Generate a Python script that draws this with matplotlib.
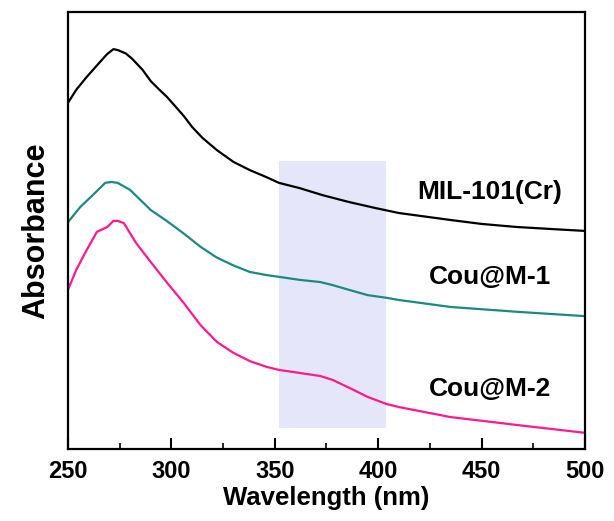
import matplotlib
matplotlib.use('Agg')
import matplotlib.pyplot as plt
from matplotlib.ticker import MultipleLocator, NullLocator

plt.rcParams['font.family'] = ['Liberation Sans', 'DejaVu Sans']
plt.rcParams['font.weight'] = 'bold'

# ── Data (absorbance in a.u.) ────────────────────────────────────────────────
mil_wl  = [250, 254, 259, 265, 269, 272, 274, 278, 281, 286, 290, 294, 298, 306,
           310, 315, 322, 330, 338, 346, 352, 362, 373, 386, 399, 410, 435, 450,
           467, 485, 500]
mil_abs = [0.792, 0.822, 0.851, 0.883, 0.904, 0.915, 0.913, 0.905, 0.893, 0.868,
           0.842, 0.823, 0.805, 0.762, 0.737, 0.712, 0.684, 0.657, 0.638, 0.622,
           0.609, 0.597, 0.581, 0.565, 0.551, 0.540, 0.524, 0.515, 0.508, 0.503,
           0.499]

m1_wl  = [250, 256, 262, 268, 271, 274, 280, 285, 290, 298, 306, 314, 322, 330,
          338, 346, 352, 362, 372, 378, 386, 395, 404, 410, 435, 467, 500]
m1_abs = [0.519, 0.554, 0.581, 0.609, 0.611, 0.609, 0.593, 0.570, 0.547, 0.521,
          0.493, 0.463, 0.438, 0.420, 0.405, 0.398, 0.394, 0.387, 0.382, 0.375,
          0.364, 0.352, 0.346, 0.341, 0.325, 0.314, 0.304]

m2_wl  = [250, 254, 259, 264, 269, 272, 274, 277, 283, 290, 298, 306, 314, 322,
          330, 338, 346, 352, 362, 372, 378, 386, 395, 404, 410, 435, 467, 500]
m2_abs = [0.364, 0.410, 0.455, 0.497, 0.508, 0.522, 0.522, 0.517, 0.471, 0.428,
          0.380, 0.334, 0.284, 0.245, 0.220, 0.201, 0.188, 0.181, 0.174, 0.167,
          0.158, 0.140, 0.119, 0.103, 0.096, 0.073, 0.055, 0.037]

labels = ['MIL-101(Cr)', 'Cou@M-1', 'Cou@M-2']
label_y = [0.588, 0.394, 0.137]
colors = ['black', '#1b8a80', '#ff1a8c']

band = (352, 404)

# ── Plot ─────────────────────────────────────────────────────────────────────
fig = plt.figure(figsize=(6.14, 5.21), dpi=100)
ax = fig.add_axes([0.1107, 0.1382, 0.8421, 0.8388])

ax.axvspan(band[0], band[1], ymin=0.048, ymax=0.659, color='#e6e6fa', lw=0, zorder=0)

for wl, ab, c in zip([mil_wl, m1_wl, m2_wl], [mil_abs, m1_abs, m2_abs], colors):
    ax.plot(wl, ab, color=c, lw=1.6)

for lab, y in zip(labels, label_y):
    ax.text(454, y, lab, ha='center', va='center', fontsize=19, fontweight='bold')

ax.set_xlim(250, 500)
ax.set_ylim(0, 1)
ax.xaxis.set_major_locator(MultipleLocator(50))
ax.xaxis.set_minor_locator(MultipleLocator(25))
ax.yaxis.set_major_locator(NullLocator())
ax.tick_params(axis='x', which='major', direction='in', length=8, width=1.5,
               labelsize=17, pad=8)
ax.tick_params(axis='x', which='minor', direction='in', length=4, width=1.2)
for s in ax.spines.values():
    s.set_linewidth(1.6)

ax.set_xlabel('Wavelength (nm)', fontsize=18.5, fontweight='bold', labelpad=2)
ax.set_ylabel('Absorbance', fontsize=22, fontweight='bold', labelpad=12)

fig.savefig('out.png', dpi=100)
